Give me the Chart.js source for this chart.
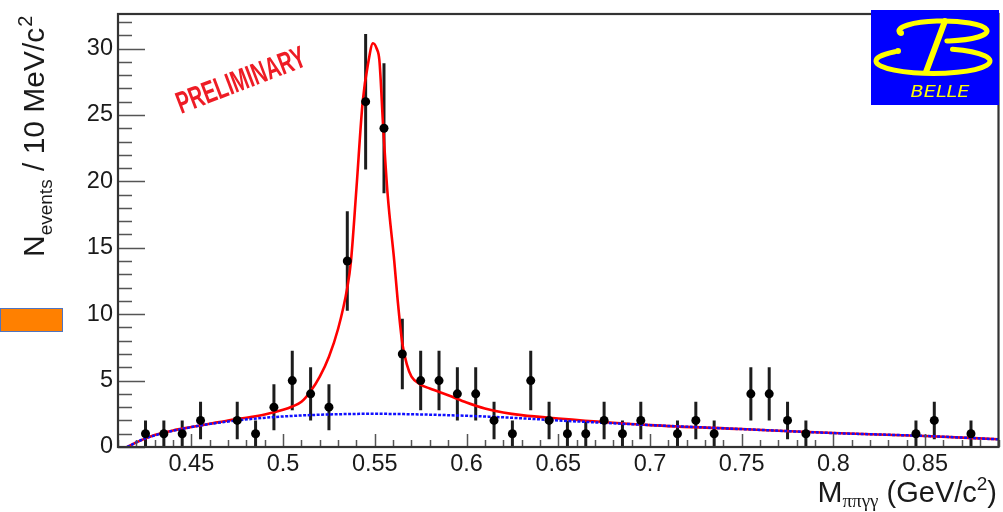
<!DOCTYPE html>
<html>
<head>
<meta charset="utf-8">
<script src="https://cdn.jsdelivr.net/npm/chart.js@4.4.1/dist/chart.umd.min.js"></script>
<style>
  html, body { margin: 0; padding: 0; background: #fff; }
  #wrap { width: 1003px; height: 512px; position: relative; }
</style>
</head>
<body>
<div id="wrap"><canvas id="mass"></canvas></div>
<script>
// bin centres (GeV/c^2) of the non-empty 10 MeV bins
const binX = [0.425, 0.435, 0.445, 0.455, 0.475, 0.485, 0.495, 0.505, 0.515, 0.525,
  0.535, 0.545, 0.555, 0.565, 0.575, 0.585, 0.595, 0.605, 0.615, 0.625,
  0.635, 0.645, 0.655, 0.665, 0.675, 0.685, 0.695, 0.715, 0.725, 0.735,
  0.755, 0.765, 0.775, 0.785, 0.845, 0.855, 0.875];
const counts = [1, 1, 1, 2, 2, 1, 3, 5, 4, 3,
  14, 26, 24, 7, 5, 5, 4, 4, 2, 1,
  5, 2, 1, 1, 2, 1, 2, 1, 2, 1,
  4, 4, 2, 1, 1, 2, 1];
const errs = [1, 1, 1, 1.41, 1.41, 1, 1.73, 2.24, 2, 1.73,
  3.74, 5.1, 4.9, 2.65, 2.24, 2.24, 2, 2, 1.41, 1,
  2.24, 1.41, 1, 1, 1.41, 1, 1.41, 1, 1.41, 1,
  2, 2, 1.41, 1, 1, 1.41, 1];

// total fit (signal + background)
const fitX = [0.415, 0.42, 0.425, 0.43, 0.44, 0.45, 0.46, 0.47, 0.48, 0.49,
  0.5, 0.505, 0.51, 0.515, 0.52, 0.525, 0.53, 0.535, 0.537, 0.54,
  0.5434, 0.5465, 0.549, 0.551, 0.5525, 0.5546, 0.557, 0.5606, 0.5625, 0.565,
  0.5675, 0.57, 0.575, 0.58, 0.59, 0.6, 0.61, 0.62, 0.63, 0.65,
  0.7, 0.75, 0.8, 0.85, 0.89];
const fitY = [0, 0.35, 0.65, 0.9, 1.25, 1.5, 1.75, 2.0, 2.2, 2.45,
  2.8, 3.05, 3.4, 4.2, 5.3, 6.8, 8.9, 12.0, 14.0, 19.5,
  26.0, 29.0, 30.4, 30.0, 29.1, 24.0, 19.0, 14.0, 11.0, 7.8,
  6.2, 5.3, 4.7, 4.4, 3.9, 3.35, 2.9, 2.6, 2.4, 2.15,
  1.65, 1.35, 1.05, 0.83, 0.58];

// background component
const bkgX = [0.415, 0.425, 0.45, 0.475, 0.5, 0.525, 0.55, 0.575, 0.6, 0.625,
  0.65, 0.7, 0.75, 0.8, 0.85, 0.89];
const bkgY = [0, 0.65, 1.5, 2.0, 2.3, 2.45, 2.5, 2.45, 2.35, 2.2,
  2.0, 1.65, 1.35, 1.05, 0.83, 0.58];

const xTicks = [0.45, 0.5, 0.55, 0.6, 0.65, 0.7, 0.75, 0.8, 0.85];
const yTicks = [0, 5, 10, 15, 20, 25, 30];

const FONT = '"Liberation Sans", Arial, Helvetica, sans-serif';
const pts = (xs, ys) => xs.map((x, i) => ({ x: x, y: ys[i] }));

function text(ctx, str, x, y, size, opts) {
  opts = opts || {};
  ctx.font = (opts.style || '') + ' ' + size + 'px ' + (opts.family || FONT);
  ctx.fillText(str, x, y);
  return ctx.measureText(str).width;
}

const errorBars = {
  id: 'errorBars',
  beforeDatasetsDraw(chart) {
    const { ctx, chartArea: a, scales: { x, y } } = chart;
    ctx.save();
    ctx.beginPath();
    ctx.rect(a.left, a.top, a.right - a.left, a.bottom - a.top);
    ctx.clip();
    ctx.strokeStyle = '#1c1c1c';
    ctx.lineWidth = 3;
    binX.forEach((bx, i) => {
      const px = x.getPixelForValue(bx);
      ctx.beginPath();
      ctx.moveTo(px, y.getPixelForValue(counts[i] + errs[i]));
      ctx.lineTo(px, y.getPixelForValue(Math.max(0, counts[i] - errs[i])));
      ctx.stroke();
    });
    ctx.restore();
  }
};

const decorations = {
  id: 'decorations',
  afterDraw(chart) {
    const { ctx, chartArea: a, scales: { x, y } } = chart;
    ctx.save();

    // inward ticks, ROOT style
    ctx.strokeStyle = '#555';
    ctx.lineWidth = 1.5;
    ctx.beginPath();
    for (let v = 0; v <= 32; v++) {
      const py = Math.round(y.getPixelForValue(v)) + 0.5;
      const len = v % 5 === 0 ? 27 : 14;
      ctx.moveTo(a.left, py);
      ctx.lineTo(a.left + len, py);
    }
    for (let k = 41; k <= 89; k++) {
      const px = Math.round(x.getPixelForValue(k / 100)) + 0.5;
      const len = k % 5 === 0 ? 13 : 7;
      ctx.moveTo(px, a.bottom);
      ctx.lineTo(px, a.bottom - len);
    }
    ctx.stroke();

    // frame
    ctx.strokeStyle = '#333';
    ctx.lineWidth = 2.2;
    ctx.strokeRect(a.left, a.top, a.right - a.left, a.bottom - a.top);

    // PRELIMINARY stamp
    ctx.save();
    ctx.translate(181, 114);
    ctx.rotate(-21 * Math.PI / 180);
    ctx.scale(0.64, 1);
    ctx.fillStyle = '#ee1c25';
    ctx.filter = 'blur(0.5px)';
    ctx.textAlign = 'left';
    ctx.textBaseline = 'alphabetic';
    text(ctx, 'PRELIMINARY', 0, 0, 31, { style: 'bold' });
    ctx.restore();

    ctx.fillStyle = '#1a1a1a';
    ctx.textAlign = 'left';
    ctx.textBaseline = 'alphabetic';

    // y-axis title, rotated
    ctx.save();
    ctx.translate(43.5, 257);
    ctx.rotate(-Math.PI / 2);
    let u = 0;
    u += text(ctx, 'N', u, 0, 30);
    u += text(ctx, 'events', u, 8, 19);
    u += text(ctx, ' / 10 MeV/c', u, 0, 30);
    text(ctx, '2', u + 1, -12, 20);
    ctx.restore();

    // x-axis title, right aligned to the frame
    const parts = [
      ['M', 0, 30, FONT],
      ['\u03C0\u03C0\u03B3\u03B3', 5, 19, '"Liberation Serif", "DejaVu Serif", serif'],
      [' (GeV/c', 0, 29, FONT],
      ['2', -12, 19, FONT],
      [')', 0, 29, FONT]
    ];
    let total = 0;
    parts.forEach(p => { ctx.font = p[2] + 'px ' + p[3]; total += ctx.measureText(p[0]).width; });
    let tx = 997 - total;
    parts.forEach(p => { tx += text(ctx, p[0], tx, 501.5 + p[1], p[2], { family: p[3] }); });

    // orange marker box at the left edge
    ctx.fillStyle = '#ff8000';
    ctx.fillRect(0, 308, 63, 24);
    ctx.strokeStyle = '#4f74c0';
    ctx.lineWidth = 1;
    ctx.strokeRect(0.5, 308.5, 62, 23);

    // Belle logo
    ctx.fillStyle = '#0000ff';
    ctx.fillRect(871, 10, 128, 95);
    ctx.strokeStyle = '#ffff00';
    ctx.fillStyle = '#ffff00';
    ctx.lineWidth = 5;
    ctx.lineCap = 'round';
    const d = Math.PI / 180;
    ctx.beginPath();
    ctx.ellipse(933, 61, 57, 12.5, 0, -70 * d, 228 * d);
    ctx.stroke();
    ctx.beginPath();
    ctx.ellipse(943, 31, 44, 10, 0, 172 * d, 445 * d);
    ctx.stroke();
    ctx.lineWidth = 6;
    ctx.beginPath();
    ctx.moveTo(945, 21);
    ctx.lineTo(926, 72);
    ctx.stroke();
    ctx.beginPath();
    ctx.arc(898, 51, 3, 0, 2 * Math.PI);
    ctx.arc(901, 33, 3, 0, 2 * Math.PI);
    ctx.fill();
    ctx.save();
    ctx.translate(940, 97);
    ctx.scale(1.2, 1);
    ctx.textAlign = 'center';
    text(ctx, 'BELLE', 0, 0, 16, { style: 'italic', family: '"DejaVu Sans", sans-serif' });
    ctx.restore();

    ctx.restore();
  }
};

new Chart(document.getElementById('mass'), {
  type: 'scatter',
  data: {
    datasets: [
      {
        label: 'data',
        data: pts(binX, counts),
        pointRadius: 4.5,
        pointBackgroundColor: '#000',
        pointBorderColor: '#000',
        pointBorderWidth: 0,
        order: 0
      },
      {
        label: 'background',
        data: pts(bkgX, bkgY),
        showLine: true,
        borderColor: '#1010ff',
        borderWidth: 2.5,
        borderDash: [3, 1.5],
        pointRadius: 0,
        cubicInterpolationMode: 'monotone',
        order: 1
      },
      {
        label: 'fit',
        data: pts(fitX, fitY),
        showLine: true,
        borderColor: '#ff0000',
        borderWidth: 2.6,
        pointRadius: 0,
        cubicInterpolationMode: 'monotone',
        order: 2
      }
    ]
  },
  options: {
    responsive: true,
    maintainAspectRatio: false,
    animation: false,
    layout: { padding: { top: 14, right: 4, left: 0, bottom: 0 } },
    plugins: { legend: { display: false }, tooltip: { enabled: false } },
    scales: {
      x: {
        type: 'linear',
        min: 0.41,
        max: 0.89,
        grid: { display: false, drawTicks: false },
        border: { display: false },
        afterBuildTicks: s => { s.ticks = xTicks.map(v => ({ value: v })); },
        afterFit: s => { s.height = 65; s.paddingLeft = 0; s.paddingRight = 0; },
        ticks: {
          padding: 3,
          color: '#1a1a1a',
          font: { family: FONT, size: 23.5 },
          callback: v => String(+v.toFixed(2))
        }
      },
      y: {
        min: 0,
        max: 32.6,
        grid: { display: false, drawTicks: false },
        border: { display: false },
        afterBuildTicks: s => { s.ticks = yTicks.map(v => ({ value: v })); },
        afterFit: s => { s.width = 118; s.paddingTop = 0; s.paddingBottom = 0; },
        ticks: {
          padding: 5,
          color: '#1a1a1a',
          font: { family: FONT, size: 23.5 },
          callback: v => String(v)
        }
      }
    }
  },
  plugins: [errorBars, decorations]
});
</script>
</body>
</html>
